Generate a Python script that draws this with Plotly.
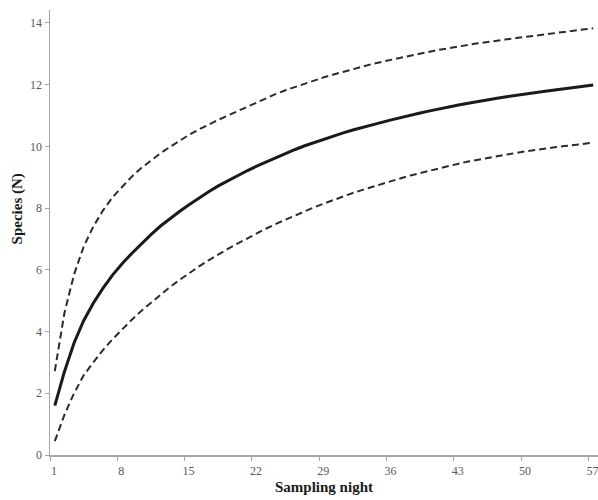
import plotly.graph_objects as go

nights = list(range(1, 58))

species_mean = [1.60, 2.70, 3.63, 4.35, 4.92, 5.40, 5.83, 6.20, 6.53, 6.84,
                7.14, 7.42, 7.67, 7.90, 8.12, 8.33, 8.53, 8.72, 8.89, 9.05,
                9.21, 9.36, 9.50, 9.64, 9.77, 9.90, 10.02, 10.13, 10.24, 10.34,
                10.44, 10.53, 10.62, 10.70, 10.78, 10.86, 10.94, 11.01, 11.08, 11.15,
                11.22, 11.28, 11.34, 11.40, 11.46, 11.51, 11.56, 11.61, 11.66, 11.71,
                11.75, 11.79, 11.83, 11.87, 11.91, 11.95, 11.99]

species_upper = [2.72, 4.60, 5.85, 6.75, 7.40, 7.92, 8.35, 8.70, 9.02, 9.30,
                 9.55, 9.78, 9.99, 10.19, 10.38, 10.55, 10.71, 10.86, 11.00, 11.14,
                 11.30, 11.44, 11.57, 11.70, 11.82, 11.93, 12.04, 12.14, 12.24, 12.33,
                 12.42, 12.51, 12.59, 12.67, 12.74, 12.81, 12.88, 12.95, 13.01, 13.07,
                 13.13, 13.19, 13.24, 13.29, 13.34, 13.39, 13.43, 13.47, 13.51, 13.55,
                 13.59, 13.63, 13.67, 13.71, 13.75, 13.79, 13.83]

species_lower = [0.45, 1.30, 2.00, 2.58, 3.00, 3.40, 3.75, 4.07, 4.38, 4.67,
                 4.94, 5.20, 5.45, 5.68, 5.90, 6.11, 6.31, 6.50, 6.68, 6.85,
                 7.02, 7.18, 7.34, 7.49, 7.63, 7.77, 7.90, 8.03, 8.15, 8.27,
                 8.38, 8.49, 8.59, 8.69, 8.79, 8.88, 8.97, 9.06, 9.14, 9.22,
                 9.30, 9.37, 9.44, 9.51, 9.57, 9.63, 9.69, 9.74, 9.79, 9.84,
                 9.89, 9.93, 9.97, 10.01, 10.05, 10.09, 10.12]

x_tick_positions = [0.5, 7.5, 14.5, 21.5, 28.5, 35.5, 42.5, 49.5, 56.5]
x_tick_labels = ["1", "8", "15", "22", "29", "36", "43", "50", "57"]
y_tick_values = [0, 2, 4, 6, 8, 10, 12, 14]

fig = go.Figure()
fig.add_trace(go.Scatter(x=nights, y=species_upper, mode="lines",
                         line=dict(color="#2b2b2b", width=2, dash="7px,4px"),
                         showlegend=False, hoverinfo="skip"))
fig.add_trace(go.Scatter(x=nights, y=species_lower, mode="lines",
                         line=dict(color="#2b2b2b", width=2, dash="7px,4px"),
                         showlegend=False, hoverinfo="skip"))
fig.add_trace(go.Scatter(x=nights, y=species_mean, mode="lines",
                         line=dict(color="#1a1a1a", width=3),
                         showlegend=False, hoverinfo="skip"))

axis_font = dict(family="Liberation Serif, Times New Roman, serif", size=12, color="#595959")
title_font = dict(family="Liberation Serif, Times New Roman, serif", size=15, color="#1a1a1a")

fig.update_layout(
    width=598, height=500,
    margin=dict(l=50, r=0, t=10, b=45, autoexpand=False),
    paper_bgcolor="white", plot_bgcolor="white",
    hovermode=False,
    xaxis=dict(
        range=[0.5, 57.5],
        tickmode="array", tickvals=x_tick_positions, ticktext=x_tick_labels,
        ticklabelshift=4, ticklabeloverflow="allow",
        ticks="outside", ticklen=4, tickcolor="#a6a6a6", tickwidth=1,
        showline=True, linecolor="#a6a6a6", linewidth=1.5,
        showgrid=False, zeroline=False,
        tickfont=axis_font, automargin=False,
        title=dict(text="<b>Sampling night</b>", font=title_font, standoff=4),
    ),
    yaxis=dict(
        range=[0, 14.42],
        tickmode="array", tickvals=y_tick_values,
        ticks="outside", ticklen=4, tickcolor="#a6a6a6", tickwidth=1,
        showline=True, linecolor="#a6a6a6", linewidth=1.5,
        showgrid=False, zeroline=False,
        tickfont=axis_font, automargin=False,
    ),
    annotations=[dict(
        text="<b>Species (N)</b>", textangle=-90,
        xref="paper", yref="paper", x=-0.0593, y=0.553,
        xanchor="center", yanchor="middle", showarrow=False,
        font=title_font,
    )],
)

fig.write_html(
    "out.html",
    config={"displayModeBar": False, "staticPlot": True},
    post_script="document.body.style.margin='0';document.body.style.overflow='hidden';"
                "document.documentElement.style.overflow='hidden';",
)
